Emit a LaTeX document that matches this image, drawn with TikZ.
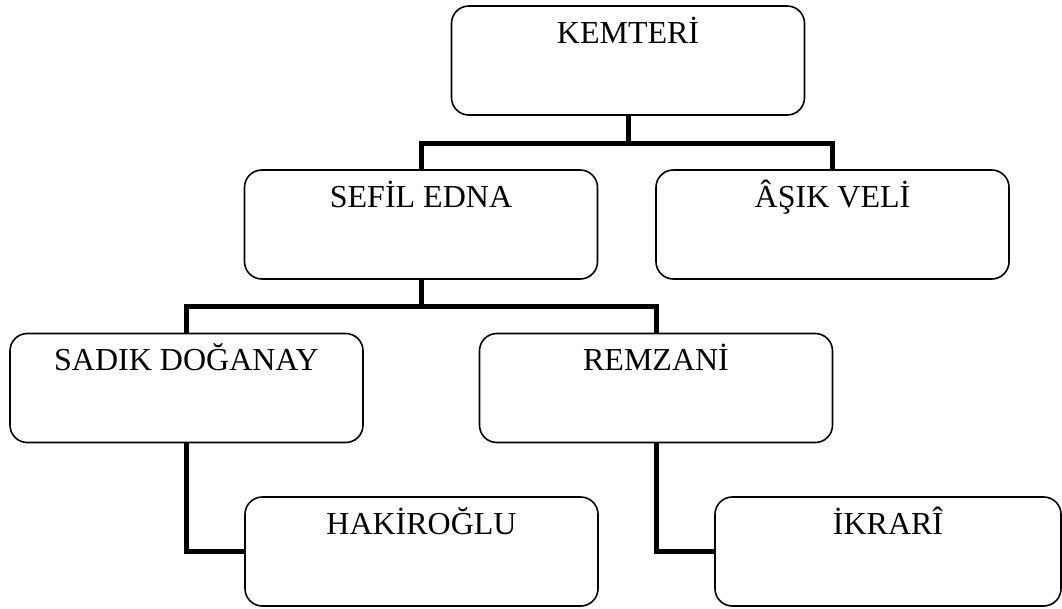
\documentclass[tikz,border=0pt]{standalone}
\usepackage{fontspec}
\setmainfont{Liberation Serif}
\usetikzlibrary{positioning}

\begin{document}
\begin{tikzpicture}[x=0.75pt,y=-0.75pt,
  bx/.style={draw, rounded corners=13pt, line width=1.2pt, inner sep=0pt,
             minimum width=264.75pt, text height=27.75pt, text depth=54pt,
             font=\fontsize{24}{28}\selectfont},
  ln/.style={line width=3.75pt}]
\useasboundingbox (0,0) rectangle (1062,608);
% ---- boxes ----
\node[bx] (kem)   at (628,60.5)    {KEMTERİ};
\node[bx] (sefil) at (421,224.5)   {SEFİL EDNA};
\node[bx] (asik)  at (832.5,224.5) {ÂŞIK VELİ};
\node[bx] (sadik) at (186.5,388)   {SADIK DOĞANAY};
\node[bx] (remz)  at (656,388)     {REMZANİ};
\node[bx] (hakir) at (421.5,551.5) {HAKİROĞLU};
\node[bx, minimum width=259.5pt] (ikrar) at (888,551.5) {İKRARÎ};
% ---- connectors ----
\draw[ln] (kem.south) -- ++(0,28) coordinate (kj);
\draw[ln] (kj) -| (sefil.north);
\draw[ln] (kj) -| (asik.north);
\draw[ln] (sefil.south) -- ++(0,27) coordinate (sj);
\draw[ln] (sj) -| (sadik.north);
\draw[ln] (sj) -| (remz.north);
\draw[ln] (sadik.south) |- (hakir.west);
\draw[ln] (remz.south) |- (ikrar.west);
\end{tikzpicture}
\end{document}
